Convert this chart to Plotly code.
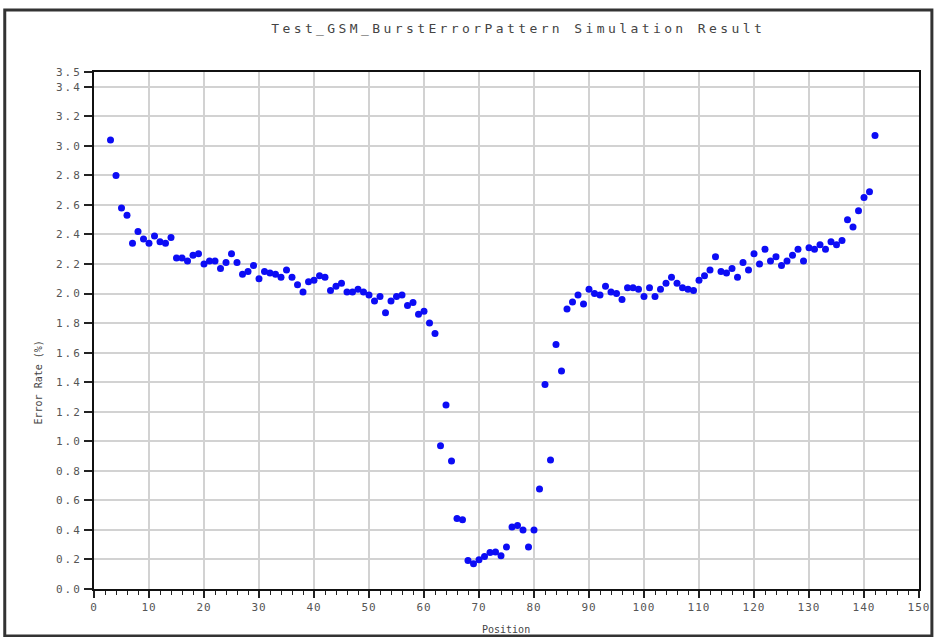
import plotly.graph_objects as go

positions = list(range(3, 143))
error_rate = [
    3.04, 2.80, 2.58, 2.53, 2.34, 2.42, 2.37, 2.34, 2.39, 2.35,   # 3-12
    2.34, 2.38, 2.24, 2.24, 2.22, 2.26, 2.27, 2.20, 2.22, 2.22,   # 13-22
    2.17, 2.21, 2.27, 2.21, 2.13, 2.15, 2.19, 2.10, 2.15, 2.14,   # 23-32
    2.13, 2.11, 2.16, 2.11, 2.06, 2.01, 2.08, 2.09, 2.12, 2.11,   # 33-42
    2.02, 2.05, 2.07, 2.01, 2.01, 2.03, 2.01, 1.99, 1.95, 1.98,   # 43-52
    1.87, 1.95, 1.98, 1.99, 1.92, 1.94, 1.86, 1.88, 1.80, 1.73,   # 53-62
    0.97, 1.245, 0.867, 0.477, 0.468, 0.193, 0.171, 0.198, 0.22, 0.247,  # 63-72
    0.25, 0.225, 0.284, 0.42, 0.43, 0.40, 0.284, 0.40, 0.677, 1.385,    # 73-82
    0.874, 1.655, 1.475, 1.895, 1.943, 1.99, 1.93, 2.03, 2.00, 1.99,    # 83-92
    2.05, 2.01, 2.00, 1.96, 2.04, 2.04, 2.03, 1.98, 2.04, 1.98,   # 93-102
    2.03, 2.07, 2.11, 2.07, 2.04, 2.03, 2.02, 2.09, 2.12, 2.16,   # 103-112
    2.25, 2.15, 2.14, 2.17, 2.11, 2.21, 2.16, 2.27, 2.20, 2.30,   # 113-122
    2.22, 2.25, 2.19, 2.22, 2.26, 2.30, 2.22, 2.31, 2.30, 2.33,   # 123-132
    2.30, 2.35, 2.33, 2.36, 2.50, 2.45, 2.56, 2.65, 2.69, 3.07,   # 133-142
]

y_tickvals = [0.0, 0.2, 0.4, 0.6, 0.8, 1.0, 1.2, 1.4, 1.6, 1.8, 2.0,
              2.2, 2.4, 2.6, 2.8, 3.0, 3.2, 3.4, 3.5]
y_ticktext = [f"{v:.1f}" for v in y_tickvals]
x_tickvals = list(range(0, 151, 10))
x_ticktext = [str(v) for v in x_tickvals]

title_text = "Test_GSM_BurstErrorPattern Simulation Result"
x_title = "Position"
y_title = "Error Rate (%)"

FONT = "DejaVu Sans Mono"
W, H = 941, 637
L, R, T, B = 94, 15, 72, 48
pw, ph = W - L - R, H - T - B

def px(x):
    return (x - L) / pw

def py(y):
    return (H - B - y) / ph

fig = go.Figure()
fig.add_trace(go.Scatter(
    x=positions, y=error_rate, mode="markers",
    marker=dict(size=7, color="#0c0cf5", line=dict(width=0)),
    showlegend=False, hoverinfo="x+y",
))

fig.update_layout(
    width=W, height=H,
    margin=dict(l=L, r=R, t=T, b=B),
    paper_bgcolor="white", plot_bgcolor="white",
    font=dict(family=FONT, size=11, color="#555555"),
    xaxis=dict(
        range=[0, 150], tickvals=x_tickvals, ticktext=x_ticktext,
        showgrid=True, gridcolor="#d2d2d2", gridwidth=2,
        ticks="outside", ticklen=7, tickwidth=2, tickcolor="#222222",
        showline=True, linecolor="#111111", linewidth=2, mirror=True,
        zeroline=False,
        minor=dict(dtick=2, tick0=0, ticks="outside", ticklen=4,
                   tickwidth=1, tickcolor="#222222", showgrid=False),
        tickfont=dict(family=FONT, size=11, color="#555555"),
    ),
    yaxis=dict(
        range=[0, 3.5], tickvals=y_tickvals, ticktext=y_ticktext,
        showgrid=True, gridcolor="#d2d2d2", gridwidth=2,
        ticks="outside", ticklen=8, tickwidth=2, tickcolor="#222222",
        showline=True, linecolor="#111111", linewidth=2, mirror=True,
        zeroline=False,
        tickfont=dict(family=FONT, size=11, color="#555555"),
    ),
    annotations=[
        dict(text=title_text, x=px(522), y=py(28), xref="paper", yref="paper",
             xanchor="center", yanchor="middle", showarrow=False,
             font=dict(family=FONT, size=13, color="#444444")),
        dict(text=x_title, x=px(509), y=py(629), xref="paper", yref="paper",
             xanchor="center", yanchor="middle", showarrow=False,
             font=dict(family=FONT, size=10, color="#444444")),
        dict(text=y_title, x=px(38), y=py(382), xref="paper", yref="paper",
             xanchor="center", yanchor="middle", showarrow=False, textangle=-90,
             font=dict(family=FONT, size=10, color="#444444")),
    ],
    shapes=[
        dict(type="rect", xref="paper", yref="paper",
             x0=px(4), x1=px(939), y0=py(636), y1=py(10),
             line=dict(color="#333333", width=3), fillcolor="rgba(0,0,0,0)",
             layer="below"),
    ],
)

post_js = """
document.body.style.margin = '0';
var gd = document.getElementById('{plot_id}');
function spaceText() {
  var t = gd.querySelector('g.annotation[data-index="0"] text.annotation-text');
  if (t) { t.style.letterSpacing = '3.4px'; }
  gd.querySelectorAll('g.ytick text').forEach(function (e) { e.style.letterSpacing = '2px'; });
  gd.querySelectorAll('g.xtick text').forEach(function (e) { e.style.letterSpacing = '1px'; });
}
spaceText();
"""

fig.write_html("out.html", post_script=post_js, config={"displayModeBar": False})
